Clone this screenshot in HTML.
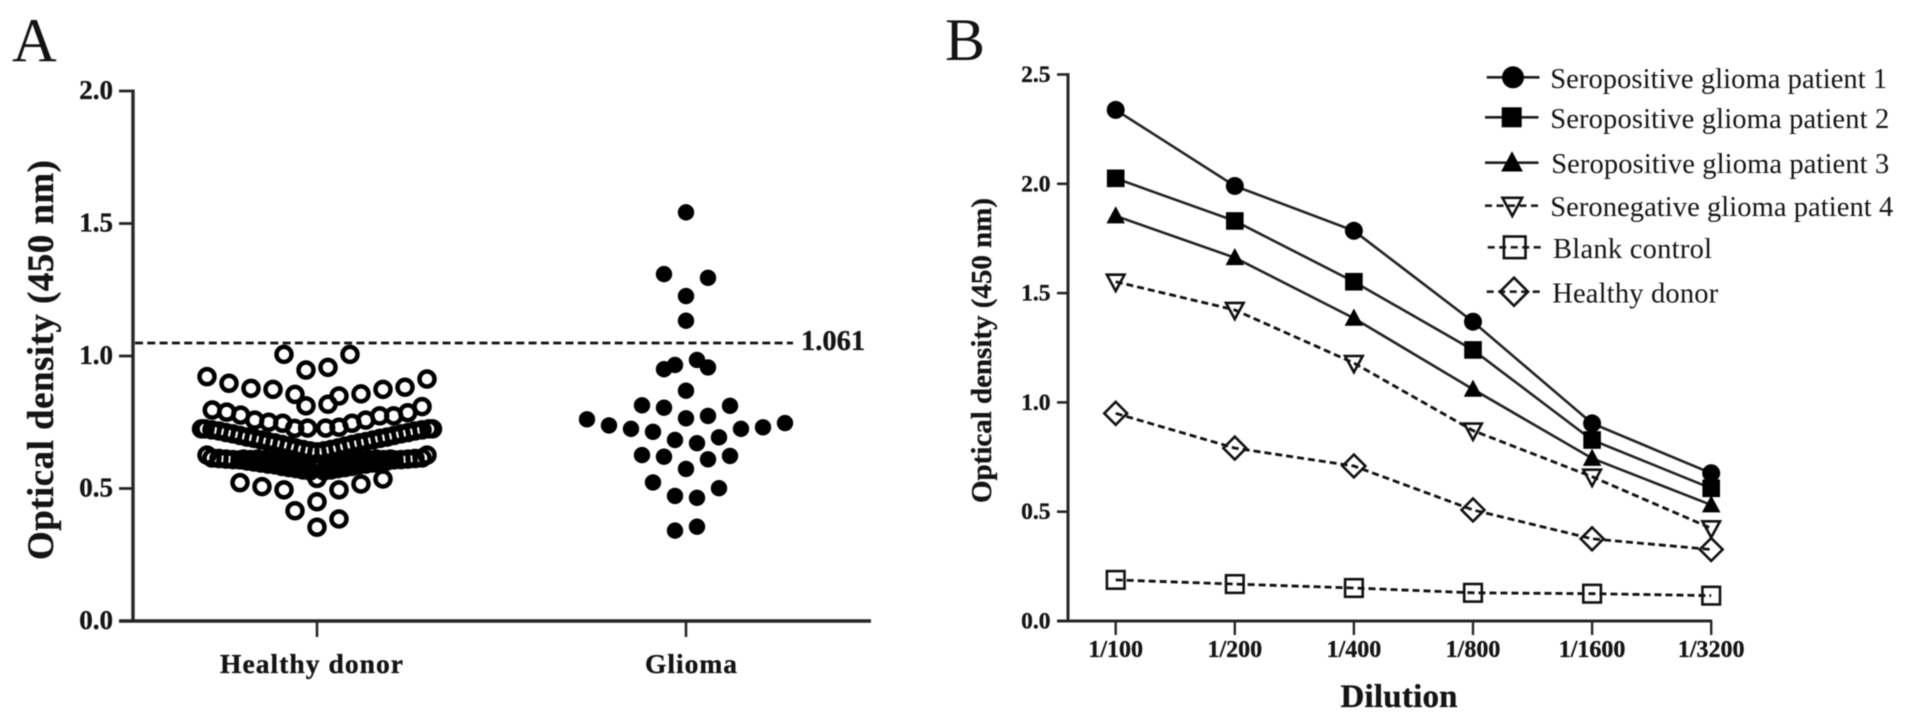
<!DOCTYPE html>
<html lang="en">
<head>
<meta charset="utf-8">
<title>Optical density of glioma and healthy donor samples</title>
<style>
  html, body { margin: 0; padding: 0; background: #fff; }
  body { width: 1913px; height: 722px; overflow: hidden; }
  svg { display: block; filter: blur(0.5px); font-family: "Liberation Serif", "Times New Roman", serif; }
  text { fill: #141414; }
  text[font-weight="bold"] { stroke: #141414; stroke-width: 0.35px; }
</style>
</head>
<body>
<svg id="figure" xmlns="http://www.w3.org/2000/svg" width="1913" height="722" viewBox="0 0 1913 722">
  <text x="12" y="61.5" font-size="62">A</text>
  <text x="945" y="60" font-size="60">B</text>
  <text transform="translate(53 360) rotate(-90)" text-anchor="middle" font-size="37" font-weight="bold" textLength="400" lengthAdjust="spacing">Optical density (450 nm)</text>
  <text transform="translate(991 350.5) rotate(-90)" text-anchor="middle" font-size="29" font-weight="bold" textLength="305" lengthAdjust="spacing">Optical density (450 nm)</text>
  <text x="1399" y="707" text-anchor="middle" font-size="33" font-weight="bold" textLength="117" lengthAdjust="spacing">Dilution</text>
  <g id="panel-a"></g>
  <g id="panel-b"></g>
  <g id="legend"></g>
</svg>
<script>
// ---------- Panel A data ----------
const scatterCategories = ["Healthy donor", "Glioma"];
const scatterTicks = [0, 0.5, 1, 1.5, 2];
const cutoffValue = 1.049;
const cutoffLabel = "1.061";

const healthyOuterSlots = [-3, 3, -1, 1, -10, -8, -6, -4, -2, -1, 1, 2, 4, 6, 8, 10];
const healthyOuterValues = [1.006, 1.006, 0.947, 0.957, 0.922, 0.897, 0.878, 0.874, 0.855, 0.812, 0.818, 0.849, 0.857, 0.874, 0.882, 0.913];

const healthyRingSlots = [-9.52, -8.21, -6.94, -5.66, -4.39, -3.12, -2.03, -0.85, 0.79, 2, 3.18, 4.43, 5.7, 6.97, 8.25, 9.55];
const healthyRingValues = [0.796, 0.788, 0.777, 0.758, 0.75, 0.746, 0.727, 0.728, 0.728, 0.731, 0.746, 0.758, 0.774, 0.774, 0.786, 0.809];

const healthyUpperBandSlots = [-10.5, -10.18, -9.55, -8.91, -8.27, -7.64, -7, -6.36, -5.73, -5.09, -4.45, -3.82, -3.18, -2.55, -1.91, -1.27, -0.64, 0, 0.64, 1.27, 1.91, 2.55, 3.18, 3.82, 4.45, 5.09, 5.73, 6.36, 7, 7.64, 8.27, 8.91, 9.55, 10.18, 10.5];
const healthyUpperBandValues = [0.725, 0.725, 0.721, 0.717, 0.711, 0.706, 0.7, 0.694, 0.689, 0.683, 0.677, 0.672, 0.666, 0.66, 0.653, 0.647, 0.642, 0.638, 0.642, 0.647, 0.653, 0.66, 0.666, 0.672, 0.677, 0.683, 0.689, 0.694, 0.7, 0.706, 0.711, 0.717, 0.721, 0.725, 0.725];

const healthyLowerBandSlots = [-10, -9.55, -8.91, -8.27, -7.64, -7, -6.36, -5.73, -5.09, -4.45, -3.82, -3.18, -2.55, -1.91, -1.27, -0.64, 0.64, 1.27, 1.91, 2.55, 3.18, 3.82, 4.45, 5.09, 5.73, 6.36, 7, 7.64, 8.27, 8.91, 9.55, 10];
const healthyLowerBandValues = [0.626, 0.615, 0.613, 0.611, 0.609, 0.608, 0.604, 0.6, 0.596, 0.592, 0.589, 0.583, 0.579, 0.575, 0.57, 0.566, 0.566, 0.57, 0.575, 0.579, 0.583, 0.589, 0.592, 0.596, 0.6, 0.604, 0.608, 0.609, 0.611, 0.613, 0.615, 0.626];

const healthyInnerBandSlots = [-6.68, -6.05, -5.41, -4.77, -4.14, -3.5, -2.86, -2.23, -1.59, -0.95, -0.32, 0.32, 0.95, 1.59, 2.23, 2.86, 3.5, 4.14, 4.77, 5.41, 6.05, 6.68];
const healthyInnerBandValues = [0.611, 0.609, 0.611, 0.608, 0.604, 0.6, 0.596, 0.592, 0.589, 0.585, 0.581, 0.581, 0.585, 0.589, 0.592, 0.596, 0.6, 0.604, 0.608, 0.611, 0.609, 0.611];

const healthyLowSlots = [-7, -5, -3, -2, 0, 0, 2, 2, 4, 6, 0];
const healthyLowValues = [0.522, 0.507, 0.495, 0.416, 0.45, 0.354, 0.385, 0.495, 0.517, 0.536, 0.538];

const gliomaSlots = [0, -2, 2, 0, 0, -2, -1, 1, 2, 0, -4, -2, 4, 0, 2, -9, -7, -5, -3, -1, 1, 3, 5, 7, 9, -4, -2, 4, 2, 0, -3, -1, 1, 3, -1, 1];
const gliomaValues = [1.542, 1.309, 1.295, 1.226, 1.133, 0.95, 0.966, 0.985, 0.957, 0.869, 0.814, 0.805, 0.812, 0.765, 0.774, 0.761, 0.738, 0.725, 0.714, 0.683, 0.671, 0.693, 0.725, 0.731, 0.747, 0.626, 0.62, 0.623, 0.61, 0.574, 0.523, 0.472, 0.465, 0.501, 0.341, 0.356];

// ---------- Panel B data ----------
const dilutions = ["1/100", "1/200", "1/400", "1/800", "1/1600", "1/3200"];
const lineTicks = [0, 0.5, 1, 1.5, 2, 2.5];
const patient1Values = [2.338, 1.99, 1.785, 1.369, 0.904, 0.676];
const patient2Values = [2.025, 1.83, 1.552, 1.24, 0.828, 0.607];
const patient3Values = [1.853, 1.662, 1.385, 1.06, 0.744, 0.531];
const patient4Values = [1.552, 1.423, 1.18, 0.871, 0.66, 0.424];
const blankValues = [0.188, 0.169, 0.151, 0.129, 0.125, 0.116];
const donorValues = [0.95, 0.791, 0.709, 0.508, 0.376, 0.327];
const seriesNames = ["Seropositive glioma patient 1", "Seropositive glioma patient 2", "Seropositive glioma patient 3", "Seronegative glioma patient 4", "Blank control", "Healthy donor"];

// ---------- Helpers ----------
const SVG_NS = "http://www.w3.org/2000/svg";
const INK = "#262626";

function make(parent, tag, attrs, content) {
  const node = document.createElementNS(SVG_NS, tag);
  for (const key in attrs) node.setAttribute(key, attrs[key]);
  if (content !== undefined) node.textContent = content;
  parent.appendChild(node);
  return node;
}

function markerShape(parent, kind, cx, cy, size, open, strokeWidth) {
  const fill = open ? "none" : "#000";
  const stroke = open ? "#111" : "#000";
  const common = { fill: fill, stroke: stroke, "stroke-width": open ? strokeWidth : 0, "stroke-linejoin": "miter" };
  if (kind === "circle") {
    return make(parent, "circle", Object.assign({ cx: cx, cy: cy, r: size }, common));
  }
  if (kind === "square") {
    return make(parent, "rect", Object.assign({ x: cx - size, y: cy - size, width: size * 2, height: size * 2 }, common));
  }
  let points;
  if (kind === "triangle") {
    points = [[cx, cy - size * 1.1], [cx + size * 1.05, cy + size * 0.85], [cx - size * 1.05, cy + size * 0.85]];
  } else if (kind === "triangle-down") {
    points = [[cx - size, cy - size * 0.8], [cx + size, cy - size * 0.8], [cx, cy + size * 1.05]];
  } else {
    points = [[cx, cy - size * 1.3], [cx + size * 1.3, cy], [cx, cy + size * 1.3], [cx - size * 1.3, cy]];
  }
  return make(parent, "polygon", Object.assign({ points: points.map(p => p.join(",")).join(" ") }, common));
}

// ---------- Panel A ----------
const panelA = document.getElementById("panel-a");
const yA = v => 621 - 265 * v;
const catA = i => 317 + 369 * i;
const slotWidth = 11;

const yAxisA = make(panelA, "line", { x1: 133, y1: yA(2) - 1.5, x2: 133, y2: yA(0), stroke: INK, "stroke-width": 3.4 });


const xAxisA = make(panelA, "line", { x1: 119, y1: yA(0), x2: 871, y2: yA(0), stroke: INK, "stroke-width": 3.4 });



scatterTicks.forEach(t => {
  const tick = make(panelA, "line", { x1: 119, y1: yA(t), x2: 133, y2: yA(t), stroke: INK, "stroke-width": 2.8 });
  
  
  const label = make(panelA, "text", { x: 113, y: yA(t) + 8, "text-anchor": "end", "font-size": 27, "font-weight": "bold" }, t.toFixed(1));
  
  
});

scatterCategories.forEach((c, i) => {
  const tick = make(panelA, "line", { x1: catA(i), y1: yA(0), x2: catA(i), y2: yA(0) + 16, stroke: INK, "stroke-width": 2.6 });
  
  
  const width = i === 0 ? 183 : 92;
  const shift = i === 0 ? -5.5 : 5;
  const label = make(panelA, "text", { x: catA(i) + shift, y: 673, "text-anchor": "middle", "font-size": 27.5, "font-weight": "bold", textLength: width, lengthAdjust: "spacing" }, c);
  
  
});

const cutoffLine = make(panelA, "line", { x1: 135, y1: yA(cutoffValue), x2: 793, y2: yA(cutoffValue), stroke: "#111", "stroke-width": 2.8, "stroke-dasharray": "8 4.3" });


const cutoffText = make(panelA, "text", { x: 801, y: yA(cutoffValue) + 7, "font-size": 28.5, "font-weight": "bold" }, cutoffLabel);



const healthySlots = [].concat(healthyInnerBandSlots, healthyLowerBandSlots, healthyUpperBandSlots, healthyRingSlots, healthyOuterSlots, healthyLowSlots);
const healthyValues = [].concat(healthyInnerBandValues, healthyLowerBandValues, healthyUpperBandValues, healthyRingValues, healthyOuterValues, healthyLowValues);

healthyValues.forEach((v, i) => {
  const point = make(panelA, "circle", { cx: catA(0) + healthySlots[i] * slotWidth, cy: yA(v), r: 7.5, fill: "none", stroke: "#000", "stroke-width": 4.5 });
  
  
});

gliomaValues.forEach((v, i) => {
  const point = make(panelA, "circle", { cx: catA(1) + gliomaSlots[i] * slotWidth, cy: yA(v), r: 8.2, fill: "#000" });
  
  
});

// ---------- Panel B ----------
const panelB = document.getElementById("panel-b");
const yB = v => 621 - 218.6 * v;
const xB = i => 1115.7 + 119.1 * i;

const yAxisB = make(panelB, "line", { x1: 1068, y1: yB(2.5) - 1.4, x2: 1068, y2: yB(0), stroke: INK, "stroke-width": 3 });


const xAxisB = make(panelB, "line", { x1: 1057, y1: yB(0), x2: xB(5) + 1, y2: yB(0), stroke: INK, "stroke-width": 3 });



lineTicks.forEach(t => {
  const tick = make(panelB, "line", { x1: 1057, y1: yB(t), x2: 1068, y2: yB(t), stroke: INK, "stroke-width": 2.6 });
  
  
  const label = make(panelB, "text", { x: 1050.5, y: yB(t) + 7.5, "text-anchor": "end", "font-size": 23.5, "font-weight": "bold" }, t.toFixed(1));
  
  
});

dilutions.forEach((d, i) => {
  const tick = make(panelB, "line", { x1: xB(i), y1: yB(0), x2: xB(i), y2: yB(0) + 14, stroke: INK, "stroke-width": 2.4 });
  
  
  const label = make(panelB, "text", { x: xB(i), y: 657, "text-anchor": "middle", "font-size": 24, "font-weight": "bold" }, d);
  
  
});

const seriesValues = [patient1Values, patient2Values, patient3Values, patient4Values, blankValues, donorValues];
const seriesKinds = ["circle", "square", "triangle", "triangle-down", "square", "diamond"];
const seriesOpen = [false, false, false, true, true, true];
const seriesDashed = [false, false, false, true, true, true];

seriesValues.forEach((values, s) => {
  const line = make(panelB, "polyline", {
    points: values.map((v, i) => xB(i) + "," + yB(v)).join(" "),
    fill: "none",
    stroke: seriesDashed[s] ? "#111" : "#222",
    "stroke-width": seriesDashed[s] ? 2.8 : 2.6,
    "stroke-dasharray": seriesDashed[s] ? "7 4" : "none"
  });
  
  
});

seriesValues.forEach((values, s) => {
  const size = seriesKinds[s] === "circle" ? 9 : 8.8;
  values.forEach((v, i) => {
    const mark = markerShape(panelB, seriesKinds[s], xB(i), yB(v), size, seriesOpen[s], 2.6);
    
    
  });
});

// ---------- Legend ----------
const legend = document.getElementById("legend");

function legendRow(index, lineStart, lineEnd, markX, markY, size, textX, baseline, textWidth) {
  const dashed = seriesDashed[index];
  const swatch = make(legend, "line", { x1: lineStart, y1: markY, x2: lineEnd, y2: markY, stroke: "#1c1c1c", "stroke-width": 2.6, "stroke-dasharray": dashed ? "7 4.5" : "none" });
  
  
  const mark = markerShape(legend, seriesKinds[index], markX, markY, size, seriesOpen[index], 2.6);
  
  
  const label = make(legend, "text", { x: textX, y: baseline, "font-size": 28.5, fill: "#1c1c1c", textLength: textWidth, lengthAdjust: "spacing" }, seriesNames[index]);
  
  
}

legendRow(0, 1486.7, 1539.5, 1513, 77.3, 11, 1550.2, 88, 337);
legendRow(1, 1485, 1538.5, 1511.7, 117.3, 10, 1550.2, 128, 339);
legendRow(2, 1485, 1538.5, 1512, 162.7, 10.4, 1551.2, 173, 338);
legendRow(3, 1485, 1538.5, 1512.3, 205.7, 9.8, 1550.2, 216, 343);
legendRow(4, 1487.7, 1542, 1514.7, 247.3, 10.8, 1553, 258, 159);
legendRow(5, 1486.7, 1541, 1514, 291.7, 10.8, 1552.2, 302.7, 166);
</script>
</body>
</html>
